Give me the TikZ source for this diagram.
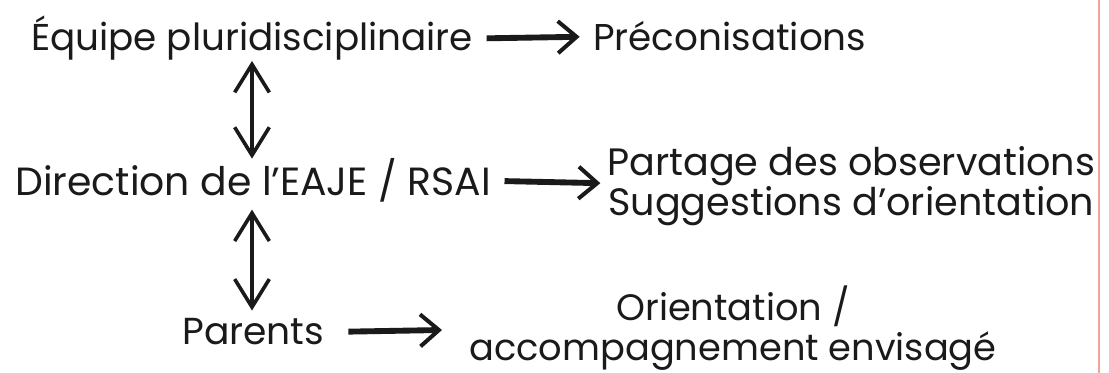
\documentclass[tikz,border=0pt]{standalone}
\usepackage{fontspec}
\setmainfont{Poppins}
\usetikzlibrary{arrows.meta}
\definecolor{edge}{HTML}{F4A39B}
\definecolor{ink}{HTML}{1A1A1A}
\tikzset{
  lbl/.style={font=\fontsize{28}{30}\selectfont, text=ink, inner sep=0pt, align=center},
  harrow/.style={line width=4.4pt, ink, -{Straight Barb[length=14pt, width=24pt, line width=3pt]}},
  varrow/.style={line width=3.5pt, ink, {Straight Barb[length=21pt, width=26pt, line width=2.7pt]}-{Straight Barb[length=21pt, width=26pt, line width=2.7pt]}}
}
\begin{document}
\begin{tikzpicture}[x=0.75pt,y=-0.75pt]
\useasboundingbox (0,0) rectangle (1109,373);
\fill[white] (0,0) rectangle (1109,373);
\draw[edge, line width=1.5pt] (1099,0) -- (1099,373);

\node[lbl, anchor=base] (equipe) at (252,51) {Équipe pluridisciplinaire};
\node[lbl, anchor=base west] (precon) at (593,51) {Préconisations};
\node[lbl, anchor=base west, font=\fontsize{29.5}{30}\selectfont] (direction) at (15,196) {Direction de l’EAJE / RSAI};
\node[lbl, anchor=west, font=\fontsize{28.6}{27}\selectfont] (partage) at (607,186) {Partage des observations\\Suggestions d’orientation};
\node[lbl, anchor=base west, font=\fontsize{28.2}{30}\selectfont] (parents) at (182,345) {Parents};
\node[lbl, font=\fontsize{27.6}{30}\selectfont] (orient) at (733,328) {Orientation /\\accompagnement envisagé};
\coordinate (parentsTip) at (442,330);

\draw[harrow, shorten <=10pt, shorten >=10pt] (equipe.east) -- (precon.west);
\draw[harrow, shorten <=10pt, shorten >=5pt] (direction.east) -- ([yshift=2pt]partage.west);
\draw[harrow, shorten <=18pt] (parents.east) -- (parentsTip);
\draw[varrow] (equipe.south) -- (equipe.south |- direction.north);
\draw[varrow, shorten <=5pt, shorten >=6pt] (equipe.south |- direction.south) -- (equipe.south |- parents.north);
\end{tikzpicture}
\end{document}
